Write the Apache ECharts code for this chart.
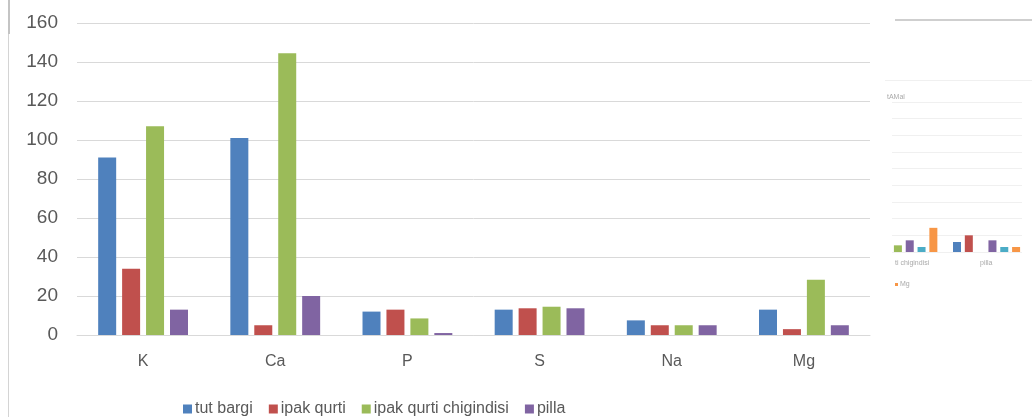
<!DOCTYPE html>
<html>
<head>
<meta charset="utf-8">
<script src="https://cdn.jsdelivr.net/npm/echarts@6/dist/echarts.min.js"></script>
<style>
  html, body { margin: 0; padding: 0; background: #fff; }
  #chart { width: 1032px; height: 417px; }
</style>
</head>
<body>
<div id="chart"></div>
<script>
// main chart data
const elements = ['K', 'Ca', 'P', 'S', 'Na', 'Mg']
const tutBargi = [91, 101, 12, 13, 7.5, 13]
const ipakQurti = [34, 5, 13, 13.7, 5, 3]
const ipakQurtiChigindisi = [107, 144.5, 8.5, 14.5, 5, 28.3]
const pilla = [13, 20, 1, 13.7, 5, 5]
const yTicks = [0, 20, 40, 60, 80, 100, 120, 140, 160]

// the small cut-off chart on the right edge
const thumbSlots = ['a', 'b', 'c', 'd', 'e', 'f', 'g', 'h', 'i', 'j', 'k']
const thumbValues = [0.4, 0.7, 0.3, 1.45, null, 0.6, 1.0, null, 0.7, 0.3, 0.3]
const thumbColors = ['#9BBB59', '#8064A2', '#4BACC6', '#F79646', '#fff', '#4F81BD', '#C0504D', '#fff', '#8064A2', '#4BACC6', '#F79646']

const colors = ['#4F81BD', '#C0504D', '#9BBB59', '#8064A2']
const font = 'Liberation Sans'
const textColor = '#595959'

const chart = echarts.init(document.getElementById('chart'))

function mainBar(name, data, color) {
    return {
        name, type: 'bar', data,
        xAxisIndex: 0, yAxisIndex: 0,
        barWidth: 18, barGap: '33%',
        itemStyle: { color }
    }
}

const option = {
    animation: false,
    textStyle: { fontFamily: font },
    grid: [
        { left: 77, right: 162, top: 23, bottom: 82 },
        { left: 892, right: 10, top: 102, height: 150 }
    ],
    legend: {
        data: ['tut bargi', 'ipak qurti', 'ipak qurti chigindisi', 'pilla'],
        left: 178, top: 396,
        itemWidth: 9, itemHeight: 9, itemGap: 16,
        icon: 'rect',
        textStyle: { fontFamily: font, fontSize: 16, color: textColor, padding: [0, 0, 0, -2] }
    },
    xAxis: [
        {
            type: 'category', data: elements, gridIndex: 0,
            axisLine: { lineStyle: { color: '#d9d9d9' } },
            axisTick: { show: false },
            axisLabel: { color: textColor, fontSize: 16, margin: 19, fontFamily: font }
        },
        {
            type: 'category', data: thumbSlots, gridIndex: 1,
            axisLine: { show: false }, axisTick: { show: false }, axisLabel: { show: false }
        }
    ],
    yAxis: [
        {
            type: 'value', min: 0, max: 160, interval: 20, gridIndex: 0,
            axisLine: { show: false }, axisTick: { show: false },
            splitLine: { lineStyle: { color: '#d9d9d9' } },
            axisLabel: {
                color: textColor, fontSize: 19, margin: 19, fontFamily: font,
                formatter: v => yTicks.includes(v) ? String(v) : ''
            }
        },
        {
            type: 'value', min: 0, max: 9, interval: 1, gridIndex: 1,
            axisLine: { show: false }, axisTick: { show: false }, axisLabel: { show: false },
            splitLine: { lineStyle: { color: '#f0f0f0' } }
        }
    ],
    series: [
        mainBar('tut bargi', tutBargi, colors[0]),
        mainBar('ipak qurti', ipakQurti, colors[1]),
        mainBar('ipak qurti chigindisi', ipakQurtiChigindisi, colors[2]),
        mainBar('pilla', pilla, colors[3]),
        {
            type: 'bar', xAxisIndex: 1, yAxisIndex: 1, barWidth: 8,
            data: thumbValues.map((v, i) => ({ value: v, itemStyle: { color: thumbColors[i] } }))
        }
    ],
    graphic: [
        // left border of the chart frame
        { type: 'line', shape: { x1: 8.5, y1: 0, x2: 8.5, y2: 417 }, style: { stroke: '#d4d4d4', lineWidth: 1 } },
        { type: 'line', shape: { x1: 9, y1: 0, x2: 9, y2: 34 }, style: { stroke: '#c4c4c4', lineWidth: 2 } },
        // pieces of the cut-off chart on the right
        { type: 'line', shape: { x1: 895, y1: 20, x2: 1032, y2: 20 }, style: { stroke: '#cfcfcf', lineWidth: 2 } },
        { type: 'line', shape: { x1: 885, y1: 80.5, x2: 1032, y2: 80.5 }, style: { stroke: '#f0f0f0', lineWidth: 1 } },
        { type: 'text', left: 887, top: 94, style: { text: 'tAMal', fill: '#aaa', font: '7px ' + font } },
        { type: 'text', left: 895, top: 260, style: { text: 'ti chigindisi', fill: '#aaa', font: '7px ' + font } },
        { type: 'text', left: 980, top: 260, style: { text: 'pilla', fill: '#aaa', font: '7px ' + font } },
        { type: 'rect', shape: { x: 895, y: 283, width: 3, height: 3 }, style: { fill: '#F79646' } },
        { type: 'text', left: 900, top: 281, style: { text: 'Mg', fill: '#aaa', font: '7px ' + font } }
    ]
}

chart.setOption(option)
window.addEventListener('resize', chart.resize)
</script>
</body>
</html>
